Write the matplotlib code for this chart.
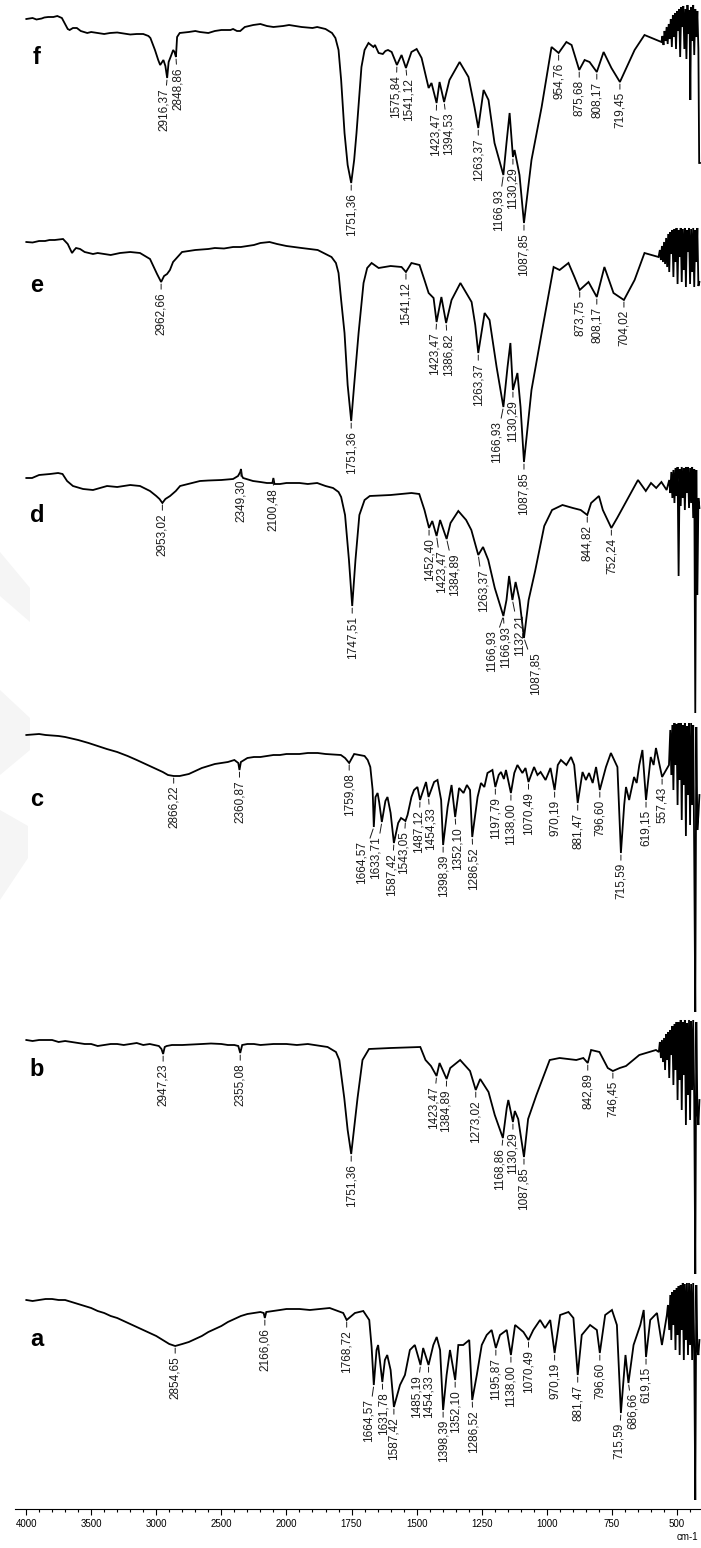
import numpy as np
import matplotlib
matplotlib.use("Agg")
import matplotlib.pyplot as plt
from matplotlib.patches import Polygon

# FTIR traces: (wavenumber cm-1, drop below the trace's own start level)
trace_f = [
    (3998, 0), (3950, -1), (3920, 0.5), (3880, -0.5), (3860, -1.5), (3830, -2), (3790, -2),
    (3760, -3), (3725, -1), (3700, 5), (3680, 10), (3665, 11), (3640, 9), (3610, 9),
    (3580, 12), (3530, 14), (3500, 13), (3450, 14), (3400, 15), (3355, 14), (3300, 13.5),
    (3250, 14.5), (3200, 15.5), (3150, 15), (3100, 15), (3060, 17), (3045, 19),
    (3010, 31), (2985, 41), (2970, 46), (2955, 43), (2945, 41), (2930, 47), (2916.37, 59),
    (2905, 43), (2890, 38), (2870, 31), (2860, 33), (2848.86, 38), (2840, 18), (2820, 14),
    (2750, 13), (2700, 12), (2665, 13), (2600, 14), (2550, 12), (2500, 11), (2470, 11),
    (2430, 11), (2410, 10), (2380, 12), (2355, 12), (2320, 8), (2255, 6), (2200, 5),
    (2150, 7), (2100, 8), (2025, 7), (1990, 6), (1942, 8), (1900, 9), (1882, 8),
    (1850, 10), (1825, 14), (1812, 19), (1800, 31), (1790, 61), (1777, 114), (1765, 146),
    (1751.36, 164), (1740, 141), (1731, 114), (1720, 76), (1712, 48), (1700, 31), (1685, 24),
    (1666, 28), (1660, 26), (1646, 34), (1630, 35), (1620, 32), (1610, 31), (1596, 33),
    (1575.84, 46), (1558, 36), (1541.12, 49),
    (1520, 33), (1500, 30), (1481, 39), (1454, 69), (1443, 64), (1423.47, 84), (1412, 63),
    (1394.53, 83), (1374, 61), (1335, 43), (1301, 58), (1278, 88), (1263.37, 109), (1243, 71),
    (1224, 81), (1201, 124), (1166.93, 156), (1155, 124), (1143, 94), (1130.29, 138),
    (1124, 131), (1105, 156), (1087.85, 204), (1059, 141), (1020, 88), (982, 28),
    (954.76, 34), (925, 23), (905, 26), (875.68, 51), (855, 41), (836, 43), (808.17, 53),
    (782, 33), (752, 49), (719.45, 63), (663, 31), (625, 16), (560, 23),
    (556, 17), (552, 26), (548, 12), (544, 22), (540, 8), (536, 25), (532, 5), (528, 20),
    (524, 0), (520, 28), (516, -4), (512, 18), (508, -6), (504, 30), (500, -8), (496, 12),
    (492, -10), (488, 38), (484, -12), (480, 8), (476, -13), (472, 30), (468, -10), (464, 40),
    (460, -14), (456, 15), (452, -9), (449, 81), (446, -12), (442, 22), (438, -14), (434, 36),
    (430, -10), (426, 18), (422, -8), (418, 30), (415, 144), (412, 144),
]

trace_e = [
    (3998, 0), (3950, 0.5), (3900, -1), (3854, -1), (3820, -2), (3780, -2), (3716, -3),
    (3680, 2), (3647, 11), (3630, 8), (3616, 6), (3585, 7), (3550, 10), (3486, 12),
    (3450, 11), (3400, 12), (3350, 13), (3278, 11), (3200, 10), (3125, 11), (3048, 17),
    (2994, 32), (2975, 37), (2962.66, 40), (2940, 34), (2917, 32), (2895, 28), (2871, 20),
    (2802, 10), (2750, 9), (2700, 8), (2600, 7), (2550, 6), (2480, 6.5), (2410, 5),
    (2350, 5), (2300, 4), (2250, 3), (2200, 1), (2130, 0), (2072, 2), (2000, 4),
    (1942, 6), (1880, 8), (1827, 15), (1810, 21), (1800, 31),
    (1790, 58), (1777, 91), (1765, 143), (1751.36, 179), (1740, 143), (1723, 91), (1704, 41),
    (1690, 26), (1673, 21), (1646, 26), (1600, 24), (1558, 25), (1541.12, 30), (1520, 21),
    (1489, 23), (1470, 38), (1454, 51), (1435, 56), (1423.47, 80), (1405, 55), (1386.82, 81),
    (1366, 58), (1332, 41), (1289, 60), (1275, 83), (1263.37, 111), (1239, 71), (1220, 78),
    (1193, 125), (1166.93, 165), (1151, 125), (1140, 101), (1130.29, 148), (1113, 131),
    (1101, 165), (1087.85, 220), (1059, 148), (1020, 91), (974, 25), (951, 28), (917, 21),
    (894, 35), (873.75, 48), (840, 40), (808.17, 55), (779, 25), (744, 51), (704.02, 58),
    (663, 38), (625, 11), (571, 15),
    (566, 8), (562, 18), (558, 4), (554, 20), (550, 0), (546, 22), (542, -4), (538, 25),
    (534, -8), (530, 30), (526, -10), (522, 12), (518, -12), (514, 35), (510, -13), (506, 20),
    (502, -14), (498, 42), (494, -12), (490, 15), (486, -14), (482, 40), (478, -13), (474, 28),
    (470, -14), (466, 45), (462, -12), (458, 10), (454, -14), (450, 42), (446, -13), (442, 30),
    (438, -14), (434, 45), (430, -12), (426, 20), (422, -14), (418, 44), (414, 40),
]

trace_d = [
    (3998, 0), (3954, 0), (3900, -3), (3816, -4), (3754, -5), (3720, -4), (3685, 3),
    (3640, 8), (3562, 11), (3486, 12), (3378, 8), (3300, 9), (3250, 8), (3200, 7),
    (3125, 8), (3048, 13), (3000, 18), (2975, 21), (2953.02, 25), (2930, 21), (2894, 18),
    (2850, 13), (2817, 8), (2664, 3), (2600, 2.5), (2500, 2), (2450, 1.5), (2410, 1),
    (2372, -2), (2355, -6), (2349.30, -9), (2342, -2), (2333, 0), (2257, 3), (2200, 4),
    (2150, 5), (2108, 5), (2100.48, 0), (2092, 6), (2050, 6), (2000, 5), (1950, 5),
    (1918, 6), (1882, 5), (1850, 8), (1821, 10), (1800, 14), (1790, 19), (1775, 37),
    (1760, 82), (1747.51, 128), (1735, 82), (1720, 37), (1700, 22), (1680, 18), (1600, 17),
    (1520, 15), (1490, 16), (1470, 32), (1452.40, 50), (1440, 43), (1423.47, 58), (1410, 42),
    (1384.89, 61), (1370, 45), (1340, 33), (1310, 42), (1290, 52), (1263.37, 77), (1245, 69),
    (1225, 82), (1200, 110), (1166.93, 138), (1155, 122), (1145, 98), (1132.21, 122),
    (1120, 104), (1105, 122), (1087.85, 160), (1070, 122), (1045, 93), (1010, 48), (980, 32),
    (940, 27), (900, 30), (870, 32), (844.82, 37), (830, 25), (800, 18), (785, 32),
    (752.24, 50), (730, 40), (690, 21), (650, 2), (620, 13), (600, 5), (580, 10), (560, 4),
    (540, 12), (530, 2),
    (526, 15), (522, -6), (518, 20), (514, -8), (510, 25), (506, -10), (502, 18), (498, -11),
    (494, 98), (490, -9), (486, 28), (482, -11), (478, 20), (474, -10), (470, 32), (466, -11),
    (462, 15), (458, -11), (454, 30), (450, -10), (446, 25), (442, -11), (438, 40), (434, -9),
    (430, 235), (426, -8), (422, 117), (418, 20), (414, 30),
]

trace_c = [
    (3998, 0), (3900, -1), (3850, 0), (3750, 1), (3700, 2), (3600, 5), (3520, 8),
    (3450, 11), (3380, 14), (3300, 17), (3220, 21), (3150, 25), (3100, 28), (3050, 31),
    (3000, 34), (2950, 37), (2910, 40), (2866.22, 41), (2820, 41), (2750, 39), (2700, 36),
    (2650, 33), (2600, 31), (2550, 29), (2500, 28), (2450, 27), (2400, 25), (2370, 28),
    (2360.87, 35), (2350, 27), (2300, 23), (2250, 22), (2200, 22), (2150, 21), (2100, 20),
    (2050, 20), (2000, 19), (1950, 19), (1918, 18), (1880, 18), (1850, 19), (1791, 20),
    (1775, 23), (1759.08, 28), (1740, 19), (1721, 20), (1700, 21), (1688, 25), (1678, 32),
    (1669, 55), (1664.57, 92), (1658, 62), (1650, 58), (1644, 67), (1633.71, 87), (1620, 66),
    (1612, 62), (1600, 78), (1587.42, 108), (1571, 88), (1560, 83), (1548, 85),
    (1543.05, 86), (1535, 80), (1520, 62), (1510, 55), (1497, 52), (1487.12, 65), (1464, 47),
    (1454.33, 62), (1433, 47), (1420, 45), (1406, 65), (1398.39, 110), (1381, 72),
    (1366, 50), (1352.10, 82), (1337, 53), (1320, 58), (1307, 50), (1295, 55),
    (1286.52, 102), (1266, 62), (1253, 48), (1240, 52), (1228, 38), (1209, 35),
    (1197.79, 52), (1185, 40), (1176, 37), (1165, 44), (1157, 35), (1138.00, 58),
    (1125, 38), (1113, 30), (1094, 38), (1082, 33), (1070.49, 47), (1049, 32), (1036, 40),
    (1024, 37), (1005, 45), (986, 33), (970.19, 55), (958, 30), (946, 25), (925, 30),
    (907, 22), (895, 30), (881.47, 68), (863, 37), (850, 45), (838, 38), (824, 48),
    (811, 32), (796.60, 55), (773, 32), (754, 18), (729, 32), (715.59, 118), (703, 70),
    (696, 52), (684, 65), (665, 42), (655, 48), (645, 30), (633, 15), (619.15, 65),
    (601, 22), (590, 30), (581, 13), (557.43, 42), (531, 30),
    (526, -5), (522, 40), (518, -10), (514, 55), (510, -12), (506, 30), (502, -11), (498, 70),
    (494, -12), (490, 45), (486, -12), (482, 85), (478, -10), (474, 50), (470, -12), (466, 101),
    (462, -9), (458, 60), (454, -12), (450, 90), (446, -12), (442, 70), (438, -10), (434, 120),
    (430, 277), (426, -8), (422, 95), (418, 80), (414, 60),
]

trace_b = [
    (3998, 0), (3950, 1), (3900, 0), (3850, 0), (3800, 0), (3750, 2), (3700, 1), (3650, 2),
    (3600, 3), (3550, 4), (3500, 4), (3450, 6), (3400, 5), (3350, 4), (3300, 4), (3250, 5),
    (3200, 4), (3150, 3), (3100, 5), (3050, 4), (2980, 6), (2960, 9), (2947.23, 14),
    (2935, 7), (2920, 6), (2880, 5), (2800, 5), (2720, 4.5), (2650, 4), (2580, 3.5),
    (2500, 4), (2450, 5), (2400, 5), (2370, 6), (2355.08, 13), (2340, 5), (2300, 4),
    (2250, 4), (2200, 5), (2100, 4), (2050, 4), (2000, 4), (1960, 5), (1918, 4), (1842, 7),
    (1810, 12), (1797, 20), (1778, 58), (1765, 90), (1751.36, 114), (1740, 88), (1727, 58),
    (1708, 20), (1683, 9), (1600, 8), (1486, 7), (1466, 20), (1445, 26), (1423.47, 36),
    (1412, 23), (1384.89, 39), (1371, 28), (1333, 20), (1295, 31), (1273.02, 50), (1256, 39),
    (1224, 52), (1200, 75), (1168.86, 98), (1154, 68), (1148, 60), (1130.29, 82), (1123, 71),
    (1110, 79), (1087.85, 117), (1072, 79), (1040, 55), (989, 20), (951, 18), (887, 20),
    (860, 18), (842.89, 23), (830, 10), (798, 12), (766, 28), (746.45, 31), (720, 28),
    (696, 26), (645, 15), (581, 10),
    (570, 12), (566, 2), (562, 18), (558, 0), (554, 22), (550, -2), (546, 30), (542, -6),
    (538, 20), (534, -8), (530, 38), (526, -10), (522, 15), (518, -14), (514, 45), (510, -16),
    (506, 30), (502, -18), (498, 60), (494, -18), (490, 40), (486, -20), (482, 70), (478, -18),
    (474, 35), (470, -20), (466, 85), (462, -17), (458, 55), (454, -20), (450, 80), (446, -19),
    (442, 50), (438, -20), (434, 60), (430, 234), (426, -18), (422, 70), (418, 85), (414, 60),
]

trace_a = [
    (3998, 0), (3950, 1), (3900, 0), (3850, -1), (3800, -1), (3750, 0), (3700, 0), (3650, 2),
    (3600, 4), (3500, 8), (3450, 11), (3400, 13), (3350, 16), (3300, 18), (3250, 21),
    (3200, 24), (3150, 27), (3100, 30), (3050, 33), (3000, 36), (2950, 40), (2900, 44),
    (2854.65, 46), (2800, 44), (2750, 42), (2700, 39), (2650, 36), (2600, 32), (2550, 29),
    (2500, 26), (2450, 22), (2400, 19), (2350, 16), (2300, 14), (2250, 13), (2200, 12),
    (2175, 13), (2166.06, 18), (2155, 12), (2100, 11), (2050, 10), (2000, 9), (1950, 9),
    (1910, 10), (1834, 8), (1782, 13), (1768.72, 20), (1737, 13), (1705, 11), (1682, 20),
    (1673, 47), (1664.57, 85), (1654, 50), (1648, 45), (1631.78, 82), (1622, 60), (1613, 55),
    (1600, 70), (1587.42, 107), (1564, 85), (1545, 75), (1526, 50), (1507, 45),
    (1485.19, 65), (1475, 48), (1454.33, 65), (1436, 45), (1423, 37), (1410, 50),
    (1398.39, 110), (1385, 75), (1372, 50), (1352.10, 80), (1340, 45), (1321, 45),
    (1298, 40), (1286.52, 100), (1269, 75), (1250, 45), (1231, 35), (1212, 30),
    (1195.87, 48), (1180, 35), (1154, 30), (1138.00, 55), (1122, 25), (1090, 32),
    (1070.49, 40), (1052, 30), (1026, 20), (1007, 28), (987, 20), (970.19, 53), (949, 15),
    (917, 12), (898, 18), (881.47, 75), (866, 35), (834, 25), (808, 30), (796.60, 53),
    (776, 15), (750, 10), (731, 25), (715.59, 113), (698, 55), (686.66, 83), (667, 45),
    (641, 25), (628, 10), (619.15, 57), (603, 20), (577, 13), (558, 45), (539, 15),
    (535, 5), (530, 30), (526, -5), (522, 40), (518, -8), (514, 25), (510, -10), (506, 50),
    (502, -12), (498, 35), (494, -14), (490, 55), (486, -15), (482, 30), (478, -17), (474, 60),
    (470, -16), (466, 40), (462, -17), (458, 55), (454, -17), (450, 45), (446, -16), (442, 60),
    (438, -17), (434, 50), (430, 200), (426, -15), (422, 50), (418, 55), (414, 40),
]

# labelled peaks: (wavenumber, horizontal shift of the label in px)
marks_f = [(2916.37, -3), (2848.86, 2), (1751.36, 0), (1575.84, -1), (1541.12, 3),
           (1423.47, -1), (1394.53, 4), (1263.37, 0), (1166.93, -5), (1130.29, 0),
           (1087.85, 0), (954.76, 0), (875.68, 0), (808.17, 0), (719.45, 0)]
marks_e = [(2962.66, 0), (1751.36, 0), (1541.12, 0), (1423.47, -2), (1386.82, 2),
           (1263.37, 0), (1166.93, -7), (1130.29, 0), (1087.85, 0), (873.75, 0),
           (808.17, 0), (704.02, 0)]
marks_d = [(2953.02, 0), (2349.30, 0), (2100.48, 0), (1747.51, 0), (1452.40, 0),
           (1423.47, 5), (1384.89, 8), (1263.37, 5), (1166.93, -12), (1166.93, 2),
           (1132.21, 7), (1087.85, 12), (844.82, 0), (752.24, 0)]
marks_c = [(2866.22, 0), (2360.87, 0), (1759.08, 0), (1664.57, -12), (1633.71, -6),
           (1587.42, -2), (1543.05, -2), (1487.12, -1), (1454.33, 2), (1398.39, 0),
           (1352.10, 2), (1286.52, 1), (1197.79, 0), (1138.00, 0), (1070.49, 0),
           (970.19, 0), (881.47, 0), (796.60, 0), (715.59, 0), (619.15, 0), (557.43, 0)]
marks_b = [(2947.23, 0), (2355.08, 0), (1751.36, 0), (1423.47, -3), (1384.89, -1),
           (1273.02, 0), (1168.86, -3), (1130.29, 0), (1087.85, 0), (842.89, 0), (746.45, 0)]
marks_a = [(2854.65, 0), (2166.06, 0), (1768.72, 0), (1664.57, -5), (1631.78, 1),
           (1587.42, 0), (1485.19, -4), (1454.33, 0), (1398.39, 0), (1352.10, 0),
           (1286.52, 1), (1195.87, 0), (1138.00, 0), (1070.49, 0), (970.19, 0),
           (881.47, 0), (796.60, 0), (715.59, -2), (686.66, 4), (619.15, 0)]

names = ['f', 'e', 'd', 'c', 'b', 'a']
traces = [trace_f, trace_e, trace_d, trace_c, trace_b, trace_a]
marks = [marks_f, marks_e, marks_d, marks_c, marks_b, marks_a]

# stacking (figure rows where each trace starts) and letter rows
offsets = [19, 242, 478, 735, 1040, 1300]
letter_rows = [57, 285, 516, 800, 1069, 1339]

major_ticks = [4000, 3500, 3000, 2500, 2000, 1750, 1500, 1250, 1000, 750, 500]

W, H = 701, 1548
AX_BOTTOM = 1509

label_font = ['Liberation Sans Narrow', 'Liberation Sans', 'DejaVu Sans']
plt.rcParams['font.family'] = ['Liberation Sans', 'DejaVu Sans']


def fwd(x):
    # spectrometer axis: 500 cm-1 per division above 2000, 250 below
    x = np.asarray(x, dtype=float)
    return np.where(x > 2000, 8 + (x - 2000) / 500.0, x / 250.0)


def inv(u):
    u = np.asarray(u, dtype=float)
    return np.where(u > 8, 2000 + (u - 8) * 500.0, u * 250.0)


def fmt(p):
    return f"{p:.2f}".replace('.', ',')


fig = plt.figure(figsize=(W / 100, H / 100), dpi=100)

# very faint watermark fragments on the left edge
for poly in ([(0, 552), (30, 588), (30, 622), (0, 596)],
             [(0, 690), (30, 718), (30, 750), (0, 775)],
             [(0, 810), (28, 826), (28, 858), (0, 900)]):
    fig.add_artist(Polygon([(x / W, 1 - y / H) for x, y in poly], closed=True,
                           transform=fig.transFigure, facecolor='#f5f5f5',
                           edgecolor='none', zorder=0))

ax = fig.add_axes([15 / W, (H - AX_BOTTOM) / H, (W - 15) / W, AX_BOTTOM / H])
ax.patch.set_alpha(0)
ax.set_xscale('function', functions=(fwd, inv))
ax.set_xlim(4085, 408)
ax.set_ylim(AX_BOTTOM, 0)

for pts, off, mk in zip(traces, offsets, marks):
    wn = np.array([p[0] for p in pts])
    y = np.array([p[1] for p in pts]) + off
    ax.plot(wn, y, color='black', lw=1.3, solid_joinstyle='miter')
    for peak, dx in mk:
        i = np.argmin(np.abs(wn - peak))
        gap = 14 if abs(dx) > 4 else 10
        ax.annotate(fmt(peak), xy=(peak, y[i]), xytext=(dx, -gap),
                    textcoords='offset pixels', rotation=90, ha='center', va='top',
                    fontsize=8.5, family=label_font, color='#1a1a1a',
                    arrowprops=dict(arrowstyle='-', lw=0.7, color='#1a1a1a',
                                    shrinkA=0, shrinkB=1.5))

for name, row in zip(names, letter_rows):
    fig.text(37 / W, 1 - row / H, name, fontsize=17, fontweight='bold',
             ha='center', va='center')

# axis: only the bottom line with major/minor ticks
for side in ['top', 'left', 'right']:
    ax.spines[side].set_visible(False)
ax.spines['bottom'].set_linewidth(0.8)
ax.set_yticks([])
ax.set_xticks(major_ticks)
ax.set_xticklabels([str(v) for v in major_ticks])
minor = [v for v in range(3900, 2000, -100) if v not in major_ticks]
minor += [v for v in range(1950, 400, -50) if v not in major_ticks]
ax.set_xticks(minor, minor=True)
ax.tick_params(axis='x', which='major', length=4.3, width=0.8, pad=3, labelsize=7,
               direction='out')
ax.tick_params(axis='x', which='minor', length=2.2, width=0.8, direction='out')

fig.text(687 / W, 1 - 1537 / H, 'cm-1', fontsize=7, ha='center', va='center')

fig.savefig('out.png', dpi=100)
